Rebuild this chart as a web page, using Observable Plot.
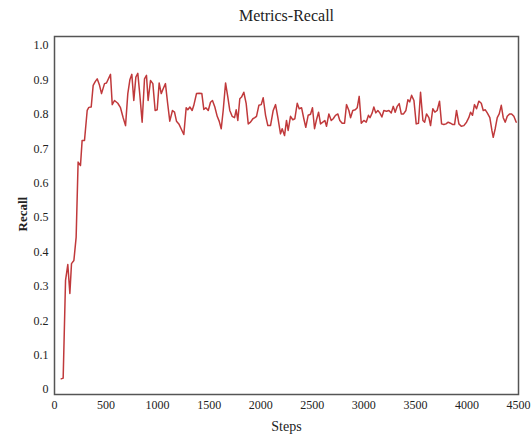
<!DOCTYPE html>
<html>
<head>
<meta charset="utf-8">
<script src="https://cdn.jsdelivr.net/npm/d3@7"></script>
<script src="https://cdn.jsdelivr.net/npm/@observablehq/plot@0.6"></script>
<style>
  html, body { margin: 0; padding: 0; background: #fff; }
</style>
</head>
<body>
<div id="chart"></div>
<script>
const title = "Metrics-Recall";
const xLabel = "Steps";
const yLabel = "Recall";
const xTicks = [0, 500, 1000, 1500, 2000, 2500, 3000, 3500, 4000, 4500];
const yTicks = [0, 0.1, 0.2, 0.3, 0.4, 0.5, 0.6, 0.7, 0.8, 0.9, 1.0];

const steps = [
  65, 84, 107, 129, 149, 165, 188, 210, 229, 252, 268, 291, 317, 333, 356, 375, 395, 414, 436, 456,
  485, 504, 543, 560, 582, 614, 640, 666, 689, 711, 731, 750, 769, 789, 808, 828, 850, 873, 892, 908,
  931, 954, 976, 996, 1015, 1035, 1054, 1076, 1096, 1118, 1144, 1164, 1183, 1206, 1228, 1254, 1277, 1293, 1313, 1335,
  1351, 1377, 1403, 1429, 1448, 1468, 1491, 1513, 1532, 1555, 1578, 1597, 1617, 1636, 1659, 1681, 1700, 1723, 1746, 1762,
  1778, 1797, 1814, 1836, 1859, 1879, 1901, 1924, 1943, 1959, 1982, 2005, 2024, 2047, 2069, 2095, 2121, 2144, 2166, 2192,
  2208, 2231, 2250, 2266, 2289, 2311, 2331, 2354, 2373, 2396, 2418, 2437, 2460, 2483, 2502, 2522, 2541, 2561, 2580, 2602,
  2622, 2638, 2661, 2684, 2703, 2725, 2748, 2767, 2790, 2813, 2832, 2855, 2871, 2893, 2917, 2936, 2955, 2975, 3000, 3023,
  3045, 3060, 3081, 3097, 3116, 3136, 3155, 3175, 3194, 3220, 3243, 3266, 3285, 3304, 3324, 3343, 3363, 3385, 3408, 3427,
  3445, 3463, 3486, 3508, 3530, 3550, 3573, 3590, 3608, 3631, 3647, 3669, 3689, 3711, 3734, 3754, 3776, 3797, 3818, 3840,
  3863, 3880, 3899, 3922, 3945, 3970, 3996, 4018, 4035, 4054, 4073, 4093, 4115, 4139, 4158, 4178, 4197, 4222, 4242, 4255,
  4274, 4294, 4313, 4333, 4352, 4371, 4391, 4413, 4433, 4455, 4478
];
const recall = [
  0.031, 0.033, 0.317, 0.363, 0.279, 0.366, 0.375, 0.443, 0.661, 0.651, 0.724, 0.724, 0.811, 0.820, 0.821, 0.884, 0.895, 0.903, 0.885, 0.860,
  0.889, 0.891, 0.916, 0.828, 0.840, 0.832, 0.819, 0.790, 0.767, 0.860, 0.900, 0.916, 0.840, 0.908, 0.919, 0.855, 0.777, 0.903, 0.913, 0.840,
  0.898, 0.889, 0.811, 0.813, 0.891, 0.860, 0.874, 0.889, 0.835, 0.780, 0.811, 0.806, 0.780, 0.772, 0.758, 0.741, 0.819, 0.813, 0.821, 0.811,
  0.826, 0.860, 0.861, 0.860, 0.814, 0.819, 0.811, 0.835, 0.840, 0.821, 0.794, 0.780, 0.758, 0.811, 0.891, 0.850, 0.811, 0.794, 0.790, 0.813,
  0.782, 0.845, 0.850, 0.864, 0.831, 0.772, 0.777, 0.787, 0.790, 0.794, 0.826, 0.828, 0.848, 0.797, 0.767, 0.767, 0.811, 0.828, 0.791, 0.743,
  0.758, 0.738, 0.782, 0.753, 0.794, 0.784, 0.787, 0.832, 0.816, 0.819, 0.787, 0.762, 0.797, 0.800, 0.819, 0.758, 0.784, 0.806, 0.772, 0.777,
  0.782, 0.765, 0.801, 0.782, 0.787, 0.797, 0.801, 0.782, 0.774, 0.774, 0.828, 0.811, 0.790, 0.811, 0.813, 0.819, 0.852, 0.774, 0.782, 0.777,
  0.797, 0.790, 0.804, 0.821, 0.804, 0.811, 0.804, 0.792, 0.811, 0.809, 0.811, 0.804, 0.823, 0.806, 0.823, 0.831, 0.801, 0.801, 0.811, 0.842,
  0.836, 0.855, 0.840, 0.772, 0.774, 0.864, 0.782, 0.777, 0.801, 0.790, 0.767, 0.816, 0.806, 0.811, 0.838, 0.772, 0.770, 0.772, 0.777, 0.774,
  0.770, 0.770, 0.811, 0.772, 0.765, 0.767, 0.777, 0.790, 0.806, 0.797, 0.828, 0.816, 0.838, 0.832, 0.811, 0.813, 0.804, 0.790, 0.753, 0.733,
  0.758, 0.790, 0.801, 0.826, 0.790, 0.777, 0.794, 0.801, 0.801, 0.794, 0.777
];

const data = steps.map((s, i) => ({step: s, recall: recall[i]}));

const chart = Plot.plot({
  width: 532,
  height: 443,
  marginLeft: 54,
  marginRight: 14,
  marginTop: 36,
  marginBottom: 49,
  style: {fontFamily: "'Liberation Serif', 'DejaVu Serif', serif", fontSize: "12px", background: "#fff", color: "#222"},
  x: {domain: [0, 4500], ticks: xTicks, tickFormat: d => String(d), tickSize: 0, tickPadding: 6, label: null},
  y: {domain: [-0.0145, 1.026], ticks: yTicks, tickFormat: d => d === 0 ? "0" : d.toFixed(1), tickSize: 0, tickPadding: 6, label: null},
  marks: [
    Plot.frame({stroke: "#555", strokeWidth: 1.5}),
    Plot.line(data, {x: "step", y: "recall", stroke: "#c0393b", strokeWidth: 1.5}),
    Plot.text([title], {frameAnchor: "top", dy: -27, fontSize: 16, fill: "#222", text: d => d}),
    Plot.text([xLabel], {frameAnchor: "bottom", dy: 36, fontSize: 14, fill: "#222", text: d => d}),
    Plot.text([yLabel], {frameAnchor: "left", dx: -32, dy: 16, rotate: -90, fontSize: 13, fontWeight: "bold", fill: "#222", text: d => d})
  ]
});
document.getElementById("chart").appendChild(chart);
</script>
</body>
</html>
